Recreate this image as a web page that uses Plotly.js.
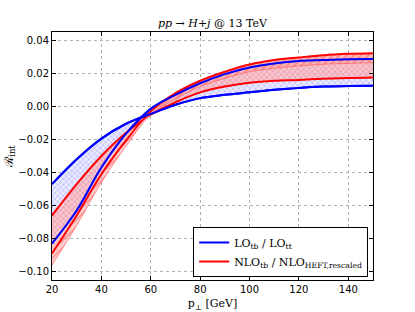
<!DOCTYPE html>
<html><head><meta charset="utf-8">
<script src="https://cdn.plot.ly/plotly-3.0.1.min.js"></script>
<style>html,body{margin:0;padding:0;background:#fff}</style>
</head><body><div id="c" style="width:415px;height:312px"></div>
<script>
const pt = [20,30,40,50,60,70,80,90,100,110,120,130,140,150];
// LO band edges
const loShallow = [-0.047,-0.032,-0.0195,-0.0105,-0.0045,0.001,0.005,0.007,0.0085,0.010,0.0112,0.012,0.0124,0.0125];
const loSteep   = [-0.083,-0.063,-0.037,-0.0165,-0.0015,0.007,0.014,0.0195,0.0235,0.026,0.0275,0.028,0.0285,0.0286];
// NLO band edges
const nloShallow = [-0.066,-0.047,-0.030,-0.016,-0.005,0.0025,0.0085,0.012,0.0143,0.0155,0.016,0.0167,0.0172,0.0175];
const nloSteep   = [-0.089,-0.066,-0.041,-0.0205,-0.003,0.008,0.0155,0.021,0.0253,0.028,0.0296,0.031,0.0318,0.0322];
const nloExtra   = [-0.096,-0.072,-0.046,-0.024,-0.005,0.0045,0.012,0.017,0.021,0.023,0.0245,0.0255,0.026,0.0265];
const xTicks = [20,40,60,80,100,120,140];
const yTicks = [-0.10,-0.08,-0.06,-0.04,-0.02,0.00,0.02,0.04];

const blue = '#0000ff', red = '#ff0000';
const traces = [
  {x:pt,y:loShallow,mode:'lines',line:{color:blue,width:2,shape:'spline'},name:'LO<sub>tb</sub> / LO<sub>tt</sub>',showlegend:true,legendrank:1},
  {x:pt,y:loSteep,mode:'lines',line:{color:blue,width:2,shape:'spline'},fill:'tonexty',fillcolor:'rgba(215,215,255,0.8)',
   fillpattern:{shape:'x',fgcolor:'rgba(110,110,255,0.7)',bgcolor:'rgba(230,230,255,0.8)',size:4,solidity:0.2},showlegend:false},
  {x:pt,y:nloShallow,mode:'lines',line:{color:red,width:2,shape:'spline'},name:'NLO<sub>tb</sub> / NLO<sub>HEFT,rescaled</sub>',showlegend:true,legendrank:2},
  {x:pt,y:nloSteep,mode:'lines',line:{color:red,width:2,shape:'spline'},fill:'tonexty',fillcolor:'rgba(255,150,150,0.65)',
   fillpattern:{shape:'x',fgcolor:'rgba(255,80,80,0.5)',bgcolor:'rgba(255,175,175,0.6)',size:4,solidity:0.2},showlegend:false},
  {x:pt,y:nloExtra,mode:'lines',line:{color:'rgba(255,80,80,0.6)',width:1,shape:'spline'},fill:'tonexty',fillcolor:'rgba(255,150,150,0.65)',
   fillpattern:{shape:'/',fgcolor:'rgba(255,80,80,0.5)',bgcolor:'rgba(255,175,175,0.6)',size:5,solidity:0.3},showlegend:false},
  {x:pt,y:loShallow,mode:'lines',line:{color:blue,width:2,shape:'spline'},showlegend:false},
  {x:pt,y:loSteep,mode:'lines',line:{color:blue,width:2,shape:'spline'},showlegend:false}
];
const ax = {
  showline:true, linecolor:'#000', linewidth:1, mirror:'ticks', ticks:'inside', ticklen:4, tickcolor:'#000',
  showgrid:true, gridcolor:'#b0b0b0', griddash:'dot', gridwidth:1, zeroline:false,
  tickfont:{family:'DejaVu Sans',size:10,color:'#000'}
};
const layout = {
  width:415, height:312, margin:{l:52,r:42,t:32,b:32},
  paper_bgcolor:'#fff', plot_bgcolor:'#fff',
  title:{text:'<i>pp</i> → <i>H</i>+<i>j</i> @ 13 TeV', font:{family:'DejaVu Serif',size:11,color:'#000'}, x:0.512, xanchor:'center', y:0.925, yanchor:'middle'},
  xaxis:Object.assign({}, ax, {range:[20,150], tickvals:xTicks, ticktext:xTicks.map(String),
    title:{text:'p<sub>⊥</sub> [GeV]', font:{family:'DejaVu Serif',size:11,color:'#000'}, standoff:5}}),
  yaxis:Object.assign({}, ax, {range:[-0.105,0.045], tickvals:yTicks, tickformat:'.2f',
    title:{text:'ℛ<sub>int</sub>', font:{family:'DejaVu Serif',size:12,color:'#000'}, standoff:2}}),
  legend:{x:0.985, xanchor:'right', y:0.012, yanchor:'bottom', bgcolor:'#fff', bordercolor:'#000', borderwidth:1,
    font:{family:'DejaVu Serif',size:11,color:'#000'}, tracegroupgap:0, traceorder:'normal'}
};
Plotly.newPlot('c', traces, layout, {displayModeBar:false, staticPlot:true});
</script></body></html>
